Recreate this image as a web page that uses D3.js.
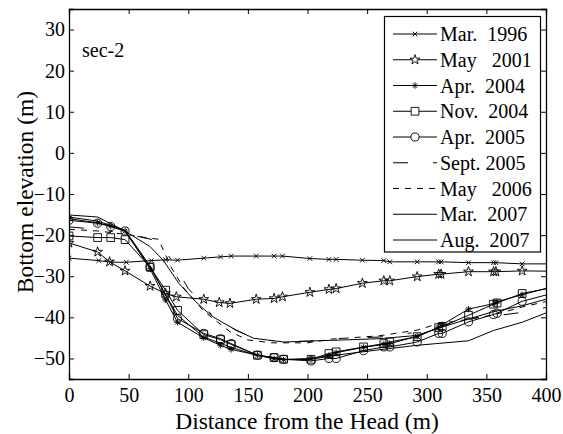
<!DOCTYPE html>
<html>
<head>
<meta charset="utf-8">
<script src="https://cdnjs.cloudflare.com/ajax/libs/d3/7.8.5/d3.min.js"></script>
<style>
  html, body { margin: 0; padding: 0; background: #fff; }
  svg { display: block; }
  text { font-family: "Liberation Serif", "Times New Roman", serif; fill: #000; }
</style>
</head>
<body>
<svg id="chart" width="563" height="434"></svg>
<script>
// ---- data ----
const xTicks = [0, 50, 100, 150, 200, 250, 300, 350, 400];
const yTicks = [-50, -40, -30, -20, -10, 0, 10, 20, 30];
const seriesNames = ["Mar.  1996", "May   2001", "Apr.  2004", "Nov.  2004", "Apr.  2005", "Sept. 2005", "May   2006", "Mar.  2007", "Aug.  2007"];

const mar1996X = [0, 25, 35, 48, 69, 81, 91, 113, 127, 136, 157, 172, 179, 202, 218, 224, 246, 264, 269, 292, 310, 312, 335, 356, 358, 380, 410];
const mar1996Y = [-25.6, -26.2, -26.6, -26.6, -26.2, -26.0, -26.1, -25.6, -25.3, -25.1, -25.1, -25.1, -25.1, -25.7, -25.9, -25.9, -26.1, -26.2, -26.5, -26.5, -26.5, -26.5, -26.7, -26.7, -26.7, -27.0, -27.0];

const may2001X = [0, 24, 34, 47, 68, 81, 90, 113, 126, 135, 157, 172, 179, 202, 218, 224, 246, 264, 269, 292, 310, 312, 335, 356, 358, 380, 410];
const may2001Y = [-21.9, -24.1, -26.5, -28.7, -32.4, -34.2, -35.0, -35.6, -36.4, -36.6, -35.6, -35.4, -35.0, -33.9, -33.2, -33.0, -31.7, -31.1, -31.1, -30.1, -29.5, -29.5, -28.9, -28.9, -28.9, -28.7, -28.8];

const apr2004X = [0, 24, 35, 47, 68, 81, 91, 113, 127, 136, 158, 172, 180, 203, 218, 224, 247, 264, 269, 292, 310, 313, 335, 357, 359, 380, 410];
const apr2004Y = [-16.0, -17.0, -17.8, -19.0, -28.2, -35.8, -41.2, -45.0, -46.8, -47.8, -49.2, -50.1, -50.3, -50.0, -49.3, -48.6, -47.3, -46.6, -46.4, -44.6, -42.4, -41.8, -38.0, -36.6, -36.2, -34.5, -32.2];

const nov2004X = [0, 24, 35, 47, 68, 81, 91, 113, 127, 136, 158, 172, 180, 203, 218, 224, 247, 264, 269, 292, 310, 313, 335, 356, 359, 380, 410];
const nov2004Y = [-20.2, -20.6, -20.6, -21.1, -27.8, -33.4, -38.3, -44.2, -45.4, -46.6, -49.2, -49.8, -50.2, -50.2, -48.8, -48.4, -47.2, -46.4, -46.0, -44.7, -42.5, -42.2, -39.5, -36.8, -36.5, -34.2, -32.5];

const apr2005X = [0, 24, 35, 47, 68, 81, 91, 113, 127, 136, 158, 172, 180, 203, 218, 224, 247, 264, 269, 292, 310, 313, 335, 356, 359, 380, 410];
const apr2005Y = [-16.4, -17.1, -17.9, -19.0, -27.8, -34.6, -40.3, -43.9, -45.2, -46.4, -49.2, -49.8, -50.2, -50.6, -50.0, -50.0, -48.1, -47.2, -47.2, -46.0, -43.9, -43.9, -41.1, -39.3, -39.0, -36.1, -33.8];

const sep2005X = [0, 24, 47, 62, 75, 88, 100, 113, 121, 128, 140, 155, 177, 200, 230, 260, 292, 310, 335, 356, 380, 410];
const sep2005Y = [-18.0, -18.6, -19.6, -20.6, -21.4, -27.0, -33.0, -37.0, -39.9, -41.1, -43.1, -45.1, -45.9, -45.8, -45.1, -44.8, -43.6, -42.3, -40.3, -39.7, -38.8, -37.0];

const may2006X = [0, 24, 47, 64, 75, 86, 96, 113, 135, 150, 170, 200, 220, 260, 292, 310, 335, 356, 380, 410];
const may2006Y = [-18.6, -19.0, -19.8, -20.6, -21.0, -28.0, -32.8, -38.5, -43.5, -45.5, -46.2, -46.2, -45.3, -44.5, -43.1, -41.5, -40.5, -39.4, -37.5, -35.5];

const mar2007X = [0, 24, 47, 68, 79, 92, 105, 113, 121, 128, 140, 155, 180, 220, 260, 292, 310, 335, 356, 380, 410];
const mar2007Y = [-15.1, -15.6, -19.0, -22.8, -26.1, -31.7, -35.8, -38.0, -39.9, -41.1, -43.1, -45.1, -46.0, -45.6, -45.2, -44.4, -42.6, -40.4, -38.6, -37.2, -34.8];

const aug2007X = [0, 24, 47, 68, 81, 91, 113, 127, 136, 158, 180, 203, 224, 260, 292, 335, 356, 380, 410];
const aug2007Y = [-15.6, -16.6, -18.8, -27.5, -34.5, -39.5, -44.8, -46.3, -47.3, -49.3, -50.3, -50.2, -49.2, -47.9, -46.8, -45.7, -43.2, -41.2, -37.8];

// ---- layout ----
const svg = d3.select("#chart");
const L = 69, R = 546, T = 9, B = 379;
const x = d3.scaleLinear().domain([0, 400]).range([L, R]);
const y = d3.scaleLinear().domain([-55, 35]).range([B, T]);

// custom marker shapes
const symX = { draw(ctx, size) { const r = Math.sqrt(size) / 2; ctx.moveTo(-r, -r); ctx.lineTo(r, r); ctx.moveTo(-r, r); ctx.lineTo(r, -r); } };
const symAst = { draw(ctx, size) { const r = Math.sqrt(size) / 2; const d = r * 0.72;
  ctx.moveTo(0, -r); ctx.lineTo(0, r); ctx.moveTo(-r, 0); ctx.lineTo(r, 0);
  ctx.moveTo(-d, -d); ctx.lineTo(d, d); ctx.moveTo(-d, d); ctx.lineTo(d, -d); } };

const series = [
  { name: seriesNames[0], xs: mar1996X, ys: mar1996Y, dash: null, sym: symX, size: 22 },
  { name: seriesNames[1], xs: may2001X, ys: may2001Y, dash: null, sym: d3.symbolStar, size: 30 },
  { name: seriesNames[2], xs: apr2004X, ys: apr2004Y, dash: null, sym: symAst, size: 40 },
  { name: seriesNames[3], xs: nov2004X, ys: nov2004Y, dash: null, sym: d3.symbolSquare, size: 60 },
  { name: seriesNames[4], xs: apr2005X, ys: apr2005Y, dash: null, sym: d3.symbolCircle, size: 52 },
  { name: seriesNames[5], xs: sep2005X, ys: sep2005Y, dash: "15,25,4,25", sym: null },
  { name: seriesNames[6], xs: may2006X, ys: may2006Y, dash: "6,6", sym: null },
  { name: seriesNames[7], xs: mar2007X, ys: mar2007Y, dash: null, sym: null },
  { name: seriesNames[8], xs: aug2007X, ys: aug2007Y, dash: null, sym: null }
];

svg.append("defs").append("clipPath").attr("id", "clip")
  .append("rect").attr("x", L).attr("y", T).attr("width", R - L).attr("height", B - T);

const plot = svg.append("g").attr("clip-path", "url(#clip)");
const line = d3.line().x(d => x(d[0])).y(d => y(d[1]));

series.slice().reverse().forEach(s => {
  const pts = s.xs.map((v, i) => [v, s.ys[i]]);
  plot.append("path").datum(pts).attr("d", line)
    .attr("fill", "none").attr("stroke", "#000").attr("stroke-width", 1)
    .attr("stroke-dasharray", s.dash);
  if (s.sym) {
    plot.selectAll(null).data(pts).enter().append("path")
      .attr("d", d3.symbol(s.sym, s.size))
      .attr("transform", d => `translate(${x(d[0])},${y(d[1])})`)
      .attr("fill", "none").attr("stroke", "#000").attr("stroke-width", 0.9);
  }
});

// axes (MATLAB-style box with inward ticks)
const tickLen = 5;
const fs = 20;
const axB = svg.append("g").attr("transform", `translate(0,${B})`)
  .call(d3.axisBottom(x).tickValues(xTicks).tickSize(-tickLen).tickPadding(9).tickFormat(d3.format("d")));
const axT = svg.append("g").attr("transform", `translate(0,${T})`)
  .call(d3.axisTop(x).tickValues(xTicks).tickSize(-tickLen).tickFormat(""));
const axL = svg.append("g").attr("transform", `translate(${L},0)`)
  .call(d3.axisLeft(y).tickValues(yTicks).tickSize(-tickLen).tickPadding(4).tickFormat(d3.format("d")));
const axR = svg.append("g").attr("transform", `translate(${R},0)`)
  .call(d3.axisRight(y).tickValues(yTicks).tickSize(-tickLen).tickFormat(""));
[axB, axT, axL, axR].forEach(a => {
  a.select(".domain").attr("stroke", "#000").attr("stroke-width", 1.3);
  a.selectAll(".tick line").attr("stroke", "#000").attr("stroke-width", 1);
  a.selectAll("text").style("font-family", '"Liberation Serif", serif').style("font-size", fs + "px").attr("fill", "#000");
});
axB.selectAll(".tick text").attr("dy", "0.71em");

// axis titles
svg.append("text").attr("x", 307).attr("y", 429).attr("text-anchor", "middle")
  .style("font-size", "23.5px").text("Distance from the Head (m)");
svg.append("text").attr("transform", `translate(33,192) rotate(-90)`).attr("text-anchor", "middle")
  .style("font-size", "23.5px").text("Bottom elevation (m)");

svg.append("text").attr("x", 82).attr("y", 57).style("font-size", "20px").text("sec-2");

// legend
const lg = svg.append("g");
lg.append("rect").attr("x", 384.5).attr("y", 16.5).attr("width", 156).attr("height", 235.5)
  .attr("fill", "#fff").attr("stroke", "#000").attr("stroke-width", 1.2);
series.forEach((s, i) => {
  const cy = 34 + i * 25.75;
  lg.append("line").attr("x1", 393).attr("x2", 437).attr("y1", cy).attr("y2", cy)
    .attr("stroke", "#000").attr("stroke-width", 1).attr("stroke-dasharray", s.dash);
  if (s.sym) {
    lg.append("path").attr("d", d3.symbol(s.sym, s.size)).attr("transform", `translate(415,${cy})`)
      .attr("fill", "#fff").attr("stroke", "#000").attr("stroke-width", 0.9);
  }
  lg.append("text").attr("x", 440).attr("y", cy).attr("dy", "0.35em")
    .style("font-size", "20px").style("white-space", "pre").text(s.name);
});
</script>
</body>
</html>
